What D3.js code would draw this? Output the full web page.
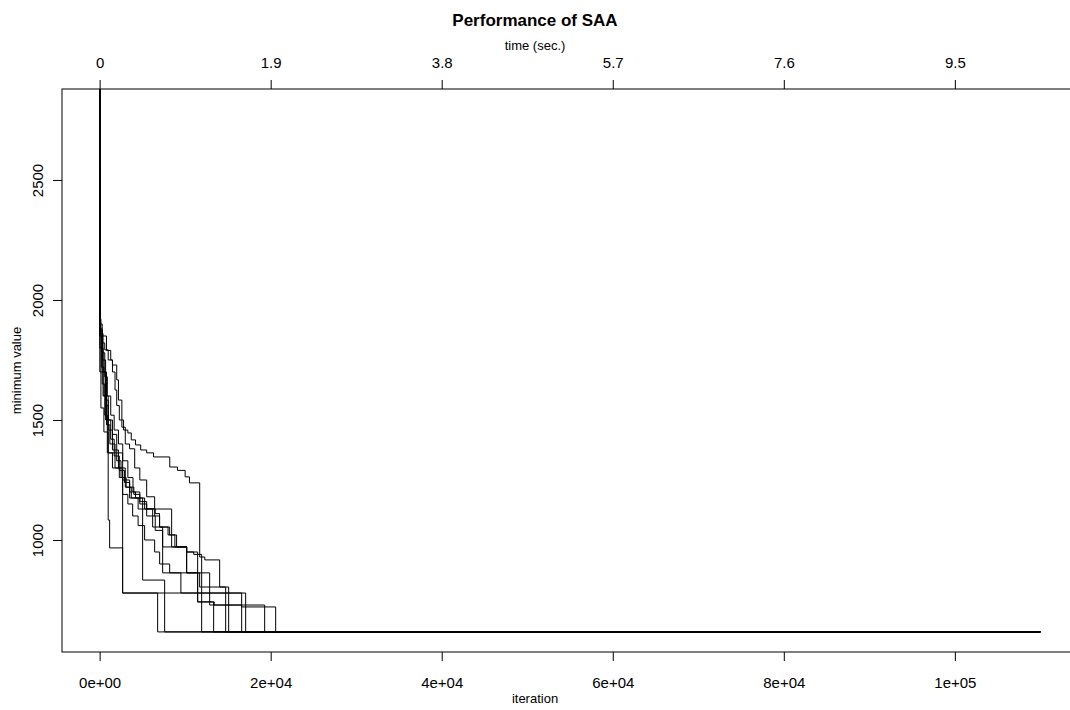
<!DOCTYPE html>
<html>
<head>
<meta charset="utf-8">
<script src="https://cdn.jsdelivr.net/npm/d3@7"></script>
<style>
  body { margin: 0; background: #fff; }
  text { font-family: "Liberation Sans", Arial, Helvetica, sans-serif; fill: #000; }
</style>
</head>
<body>
<div id="chart"></div>
<script>
// best-so-far value per run, as [iteration, minimum value] step points
const run1 = [[0,2879],[30,1875],[300,1821],[600,1792],[1000,1750],[1500,1729],[2000,1667],[2200,1583],[2600,1500],[2800,1458],[3300,1446],[3700,1417],[4200,1396],[4800,1375],[5500,1363],[6300,1346],[8200,1304],[9100,1290],[10000,1263],[10500,1238],[11700,929],[12300,917],[14035,804],[15088,617],[110000,617]];
const run2 = [[0,2542],[40,1850],[800,1790],[1300,1750],[1500,1700],[1800,1625],[2000,1560],[2300,1500],[2600,1470],[3000,1400],[3500,1380],[4100,1300],[4700,1250],[5500,1180],[6433,1129],[8421,971],[10175,863],[11462,742],[13400,729],[16600,721],[20585,617],[110000,617]];
const run3 = [[0,2879],[20,1920],[150,1700],[400,1600],[700,1500],[1000,1083],[1170,967],[2690,779],[6784,617],[110000,617]];
const run4 = [[0,2879],[20,1880],[300,1650],[600,1520],[900,1363],[2690,1250],[3509,1175],[5029,833],[7602,617],[110000,617]];
const run5 = [[0,2879],[25,1860],[400,1700],[800,1560],[1000,1458],[1500,1375],[2200,1300],[3000,1220],[4000,1190],[4700,1160],[5500,1130],[6500,1110],[7000,1054],[8000,1021],[8800,971],[10175,950],[11000,940],[11930,617],[110000,617]];
const run6 = [[0,2879],[30,1800],[400,1700],[700,1583],[1000,1500],[1300,1420],[1700,1350],[2300,1290],[2900,1240],[3509,1200],[4200,1175],[5263,1129],[6199,1054],[7368,971],[10175,863],[11462,742],[13333,617],[110000,617]];
const run7 = [[0,2879],[20,1900],[300,1750],[700,1600],[1000,1500],[1500,1440],[2000,1330],[2500,1260],[3100,1220],[3700,1175],[4500,1129],[5500,1100],[6500,1040],[7368,863],[11696,804],[14737,617],[110000,617]];
const run8 = [[0,2879],[20,1850],[200,1720],[500,1600],[800,1480],[1200,1400],[1800,1300],[2300,1260],[2690,1190],[3300,1150],[3860,1100],[4500,1060],[5263,1000],[6433,950],[7018,900],[8187,863],[9500,779],[16608,617],[110000,617]];
const run9 = [[0,2879],[20,1700],[150,1550],[500,1450],[1000,1363],[1500,1300],[2690,779],[17076,617],[110000,617]];
const run10 = [[0,2879],[20,1870],[300,1780],[600,1680],[900,1600],[1300,1520],[1700,1458],[2200,1400],[2700,1330],[3300,1260],[3900,1200],[4700,1150],[5500,1129],[6433,1100],[7018,1054],[8187,1021],[9000,971],[10175,950],[11462,863],[12865,729],[19298,617],[110000,617]];
const runs = [run1, run2, run3, run4, run5, run6, run7, run8, run9, run10];

const iterTicks = [0, 20000, 40000, 60000, 80000, 100000];
const iterTickLabels = ["0e+00", "2e+04", "4e+04", "6e+04", "8e+04", "1e+05"];
const timeTicks = [0, 1.9, 3.8, 5.7, 7.6, 9.5];
const valueTicks = [1000, 1500, 2000, 2500];
const secPerIter = 1.9 / 20000;

const width = 1070, height = 710;
const plotL = 62, plotR = 1078, plotT = 89, plotB = 652;

const svg = d3.select("#chart").append("svg")
  .attr("width", width)
  .attr("height", height);

// scales (R style 4% padding around the data range)
const x = d3.scaleLinear().domain([-4400, 114400]).range([plotL, plotR]);
const xTime = d3.scaleLinear().domain([-4400 * secPerIter, 114400 * secPerIter]).range([plotL, plotR]);
const y = d3.scaleLinear().domain([533.3, 2879]).range([plotB, plotT]);

svg.append("clipPath").attr("id", "plotclip")
  .append("rect").attr("x", plotL).attr("y", plotT).attr("width", plotR - plotL).attr("height", plotB - plotT);

// draw runs
const line = d3.line()
  .x(d => x(d[0]))
  .y(d => y(d[1]))
  .curve(d3.curveStepAfter);

svg.append("g").attr("clip-path", "url(#plotclip)")
  .selectAll("path")
  .data(runs)
  .enter()
  .append("path")
  .attr("d", line)
  .attr("fill", "none")
  .attr("stroke", "#000")
  .attr("stroke-width", 1);

// box
svg.append("rect")
  .attr("x", plotL).attr("y", plotT)
  .attr("width", plotR - plotL).attr("height", plotB - plotT)
  .attr("fill", "none").attr("stroke", "#000").attr("stroke-width", 1);

// bottom axis
const xAxis = d3.axisBottom(x)
  .tickValues(iterTicks)
  .tickFormat((d, i) => iterTickLabels[i])
  .tickSizeInner(9).tickSizeOuter(0).tickPadding(16);
const gx = svg.append("g").attr("transform", "translate(0," + plotB + ")").call(xAxis);

// top axis (time)
const tAxis = d3.axisTop(xTime)
  .tickValues(timeTicks)
  .tickFormat(d => d === 0 ? "0" : d3.format(".1f")(d))
  .tickSizeInner(9).tickSizeOuter(0).tickPadding(12);
const gt = svg.append("g").attr("transform", "translate(0," + plotT + ")").call(tAxis);

// left axis, labels parallel to the axis
const yAxis = d3.axisLeft(y)
  .tickValues(valueTicks)
  .tickSizeInner(9).tickSizeOuter(0)
  .tickFormat(d3.format("d"));
const gy = svg.append("g").attr("transform", "translate(" + plotL + ",0)").call(yAxis);
gy.selectAll(".tick text")
  .attr("x", null).attr("dy", null)
  .attr("transform", "translate(-19,0) rotate(-90)")
  .attr("text-anchor", "middle");

[gx, gt, gy].forEach(g => {
  g.select(".domain").remove();
  g.selectAll("line").attr("stroke", "#000");
  g.selectAll("text").attr("font-size", 15).attr("font-family", null);
});

// titles
svg.append("text")
  .attr("x", 535).attr("y", 26)
  .attr("text-anchor", "middle")
  .attr("font-size", 17).attr("font-weight", "bold")
  .text("Performance of SAA");

svg.append("text")
  .attr("x", 535).attr("y", 50)
  .attr("text-anchor", "middle")
  .attr("font-size", 13)
  .text("time (sec.)");

svg.append("text")
  .attr("x", 535).attr("y", 703)
  .attr("text-anchor", "middle")
  .attr("font-size", 13)
  .text("iteration");

svg.append("text")
  .attr("transform", "translate(21," + ((plotT + plotB) / 2) + ") rotate(-90)")
  .attr("text-anchor", "middle")
  .attr("font-size", 13)
  .text("minimum value");
</script>
</body>
</html>
